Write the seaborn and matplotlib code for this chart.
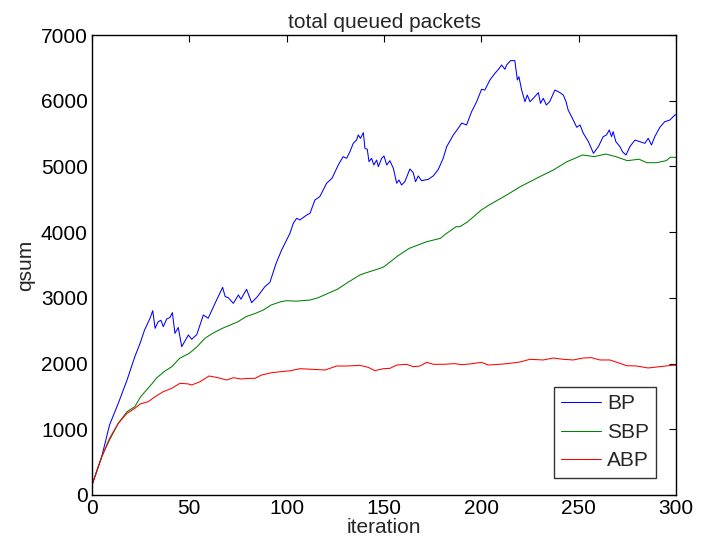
import pandas as pd
import matplotlib.pyplot as plt
import seaborn as sns

# values
bp_iter = [0, 5, 9, 13.5, 18, 22, 24.7, 27, 29.8, 31.2, 32.4, 34, 35.4, 36.6, 38.4, 40, 41.3,
           42.6, 44.3, 46.1, 49.5, 51.2, 53.8, 57.2, 59.7, 63.2, 67.1, 68.4, 70.1, 72.6, 75.2,
           76.5, 79.4, 82, 85, 88.8, 91.4, 94.5, 97.4, 99.1, 101.7, 103.4, 105.1, 106.8, 110.3,
           112, 114.5, 117, 120.5, 123.3, 126.5, 129, 130.8, 132.5, 134.2, 135.9, 136.8, 137.9,
           139.4, 140.2, 141.4, 142.3, 143.6, 144.8, 146.2, 147.1, 148.8, 150, 151.4, 153,
           154.8, 156.5, 157.7, 159, 160.7, 163.3, 165, 166.2, 167.6, 169.3, 172.7, 175.3,
           177.9, 180.4, 182.2, 185.6, 188.1, 189.9, 192.4, 195, 197.6, 200.1, 201.8, 204.4,
           207, 208.7, 210.4, 212.1, 213, 215, 217.2, 218.5, 219.3, 220.7, 222.4, 223.6, 225,
           226.7, 229.3, 230.4, 231.8, 233.4, 235.1, 237.8, 240.4, 242.1, 243.5, 244.6, 247.2,
           249, 250.7, 252.4, 255, 257.6, 260.1, 262.6, 264.3, 265.7, 266.9, 267.7, 269.1,
           271.2, 272.5, 274.3, 276.3, 278.9, 281.4, 284, 285.7, 287.4, 289.1, 291.7, 294.2,
           296.9, 299.4, 300]
bp_qsum = [152, 583, 1065, 1395, 1750, 2105, 2309, 2511, 2689, 2805, 2537, 2637, 2660, 2562,
           2680, 2700, 2775, 2460, 2550, 2257, 2435, 2370, 2440, 2739, 2690, 2917, 3160, 3020,
           3000, 2917, 3044, 2980, 3130, 2927, 3020, 3170, 3237, 3520, 3728, 3830, 3983, 4135,
           4211, 4186, 4261, 4287, 4489, 4540, 4744, 4820, 5022, 5149, 5124, 5224, 5352, 5402,
           5479, 5428, 5514, 5276, 5261, 5073, 5124, 5022, 5098, 4997, 5124, 5159, 5022, 5088,
           4972, 4744, 4794, 4718, 4768, 4961, 4905, 4768, 4855, 4783, 4804, 4855, 4956, 5124,
           5301, 5479, 5580, 5660, 5631, 5834, 5986, 6174, 6163, 6316, 6418, 6474, 6544, 6479,
           6544, 6610, 6610, 6316, 6366, 6163, 5986, 6087, 5986, 6037, 6123, 5961, 6037, 5935,
           5986, 6163, 6123, 6087, 5986, 5859, 5707, 5596, 5631, 5504, 5377, 5200, 5301, 5453,
           5479, 5555, 5453, 5529, 5377, 5301, 5224, 5174, 5301, 5402, 5377, 5352, 5428, 5326,
           5453, 5596, 5681, 5707, 5783, 5790]

sbp_iter = [0, 5, 9, 13.5, 18, 22, 25, 28, 31, 33, 37, 41, 45, 50, 54, 58, 62, 67, 71, 75,
            79, 84, 88, 92, 97, 100, 105, 112, 116, 122, 126, 132, 137.6, 140, 148, 150, 157,
            163, 172, 179, 181, 187, 189, 193, 196, 200, 204, 213, 220, 225, 230, 237, 244, 247,
            252, 258, 264, 269, 275, 281, 285, 290, 295, 297, 300]
sbp_qsum = [152, 580, 837, 1091, 1268, 1344, 1496, 1598, 1700, 1775, 1877, 1953, 2080, 2156,
            2257, 2385, 2461, 2537, 2587, 2637, 2713, 2765, 2815, 2891, 2942, 2957, 2950, 2967,
            3000, 3079, 3130, 3246, 3348, 3374, 3450, 3474, 3637, 3754, 3855, 3906, 3957, 4083,
            4083, 4159, 4235, 4337, 4413, 4565, 4692, 4768, 4844, 4946, 5073, 5110, 5174, 5150,
            5189, 5150, 5088, 5110, 5057, 5057, 5088, 5139, 5139]

abp_iter = [0, 5, 9, 13.5, 18, 22, 24.7, 28.9, 32.4, 36.6, 40.9, 45.2, 49.5, 51.2, 55.5, 60.1,
            64, 69.2, 72.6, 76.8, 80.2, 83.7, 87.1, 92.3, 97, 101.7, 106.8, 113.7, 119.7, 125.7,
            130.8, 137.6, 141.9, 145.3, 149.6, 153, 156.5, 161.6, 165, 168.5, 171.9, 175.3,
            180.4, 186.4, 189.8, 194.1, 200.1, 203.5, 209.5, 214.7, 219.8, 225, 231.8, 236.9,
            242, 247.2, 252.4, 256.6, 260.9, 266, 271.2, 274.6, 279.7, 285.7, 291.7, 297.7, 300]
abp_qsum = [152, 583, 862, 1091, 1243, 1319, 1385, 1420, 1496, 1572, 1623, 1700, 1690, 1674,
            1724, 1811, 1790, 1750, 1785, 1765, 1775, 1775, 1826, 1861, 1877, 1890, 1922, 1912,
            1902, 1963, 1963, 1973, 1943, 1892, 1922, 1927, 1978, 1989, 1953, 1963, 2019, 1989,
            1989, 1999, 1983, 1994, 2019, 1978, 1989, 2004, 2024, 2065, 2055, 2085, 2065, 2055,
            2085, 2090, 2055, 2055, 2004, 1968, 1963, 1933, 1953, 1973, 1975]

labels = ['BP', 'SBP', 'ABP']
colors = {'BP': '#0000ff', 'SBP': '#008000', 'ABP': '#ff0000'}

df = pd.concat([
    pd.DataFrame({'iteration': bp_iter, 'qsum': bp_qsum, 'alg': 'BP'}),
    pd.DataFrame({'iteration': sbp_iter, 'qsum': sbp_qsum, 'alg': 'SBP'}),
    pd.DataFrame({'iteration': abp_iter, 'qsum': abp_qsum, 'alg': 'ABP'}),
], ignore_index=True)

sns.set_style('white')
plt.rcParams['font.family'] = ['Liberation Sans', 'DejaVu Sans']

fig = plt.figure(figsize=(7.21, 5.43), dpi=100)
ax = fig.add_axes([0.1276, 0.0884, 0.81, 0.8471])
sns.lineplot(data=df, x='iteration', y='qsum', hue='alg', hue_order=labels,
             palette=colors, estimator=None, sort=False, linewidth=0.75, ax=ax)

ax.set_xlim(0, 300)
ax.set_ylim(0, 7000)
ax.set_xticks([0, 50, 100, 150, 200, 250, 300])
ax.set_yticks(range(0, 7001, 1000))
ax.tick_params(direction='in', top=True, right=True, length=5, width=0.8,
               labelsize=15, pad=3, colors='black')
for s in ax.spines.values():
    s.set_color('black')
    s.set_linewidth(1.0)
ax.set_xlabel('iteration', fontsize=15, labelpad=0)
ax.set_ylabel('qsum', fontsize=15, labelpad=4)
ax.set_title('total queued packets', fontsize=15, pad=5)

leg = ax.legend(loc='lower right', bbox_to_anchor=(0.966, 0.038), fontsize=15,
                frameon=True, fancybox=False, edgecolor='black',
                handlelength=1.9, handletextpad=0.3, borderpad=0.35, labelspacing=0.45,
                borderaxespad=0)
leg.get_frame().set_linewidth(1.0)

plt.savefig('out.png', dpi=100)
